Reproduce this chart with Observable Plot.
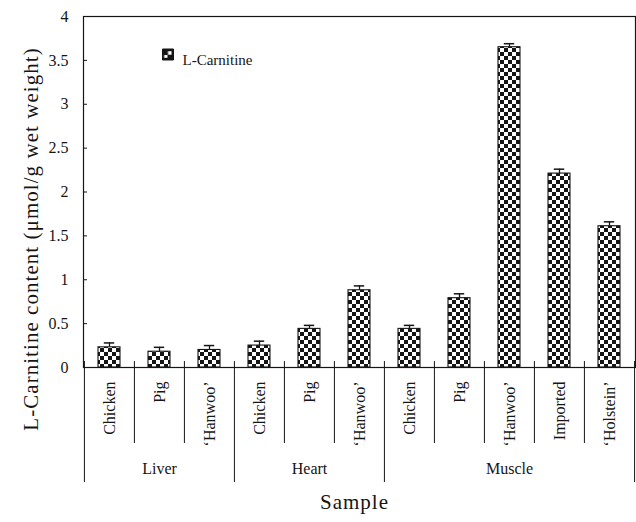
<!DOCTYPE html>
<html>
<head>
<meta charset="utf-8">
<script src="https://cdn.jsdelivr.net/npm/d3@7"></script>
<script src="https://cdn.jsdelivr.net/npm/@observablehq/plot@0.6"></script>
<style>
  html, body { margin: 0; padding: 0; background: #fff; }
  #chart { width: 636px; height: 522px; }
</style>
</head>
<body>
<div id="chart"></div>
<script>
// ---- data ----
const tissues = ["Liver", "Liver", "Liver", "Heart", "Heart", "Heart", "Muscle", "Muscle", "Muscle", "Muscle", "Muscle"];
const samples = ["Chicken", "Pig", "\u2018Hanwoo\u2019", "Chicken", "Pig", "\u2018Hanwoo\u2019", "Chicken", "Pig", "\u2018Hanwoo\u2019", "Imported", "\u2018Holstein\u2019"];
const carnitine = [0.23, 0.18, 0.20, 0.25, 0.44, 0.88, 0.44, 0.79, 3.65, 2.21, 1.61];
const sem = [0.05, 0.05, 0.05, 0.05, 0.04, 0.05, 0.04, 0.05, 0.04, 0.05, 0.05];
const groups = ["Liver", "Heart", "Muscle"];
const yTicks = [0, 0.5, 1, 1.5, 2, 2.5, 3, 3.5, 4];
const yLabel = "L-Carnitine content (\u03bcmol/g wet weight)";
const xLabel = "Sample";
const seriesName = "L-Carnitine";

// ---- table ----
const rows = samples.map((s, i) => ({
  key: tissues[i] + "|" + s,
  tissue: tissues[i],
  sample: s,
  value: carnitine[i],
  top: carnitine[i] + sem[i]
}));
const keys = rows.map(d => d.key);
const sampleOf = new Map(rows.map(d => [d.key, d.sample]));
const tissueOf = new Map(rows.map(d => [d.key, d.tissue]));
const groupFirst = groups.map(g => rows.find(d => d.tissue === g).key);
const groupMid = groups.map(g => {
  const r = rows.filter(d => d.tissue === g);
  return r[Math.floor(r.length / 2)].key;
});
const innerKeys = keys.filter(k => !groupFirst.includes(k));

// ---- layout ----
const W = 636, H = 522;
const mL = 83, mR = 1, mT = 16, mB = 155;
const plotW = W - mL - mR, plotH = H - mT - mB;
const step = plotW / keys.length;
const pad = 0.57;
const ink = "#151515";

function defsMark() {
  const ns = "http://www.w3.org/2000/svg";
  const defs = document.createElementNS(ns, "defs");
  const rect = (parent, x, y, w, h, fill) => {
    const r = document.createElementNS(ns, "rect");
    r.setAttribute("x", x); r.setAttribute("y", y);
    r.setAttribute("width", w); r.setAttribute("height", h);
    r.setAttribute("fill", fill);
    parent.appendChild(r);
  };
  // bar checker pattern
  const p = document.createElementNS(ns, "pattern");
  p.setAttribute("id", "checker");
  p.setAttribute("patternUnits", "userSpaceOnUse");
  p.setAttribute("width", 8);
  p.setAttribute("height", 8);
  rect(p, 0, 0, 8, 8, "#fff");
  rect(p, 0, 0, 4, 4, ink);
  rect(p, 4, 4, 4, 4, ink);
  defs.appendChild(p);
  // legend swatch pattern (bounding-box relative)
  const q = document.createElementNS(ns, "pattern");
  q.setAttribute("id", "checkerLegend");
  q.setAttribute("patternUnits", "objectBoundingBox");
  q.setAttribute("patternContentUnits", "objectBoundingBox");
  q.setAttribute("width", 1);
  q.setAttribute("height", 1);
  rect(q, 0, 0, 1, 1, ink);
  rect(q, 0.5, 0.2, 0.32, 0.32, "#fff");
  rect(q, 0.15, 0.55, 0.3, 0.25, "#fff");
  defs.appendChild(q);
  return defs;
}

const chart = Plot.plot({
  width: W,
  height: H,
  marginLeft: mL,
  marginRight: mR,
  marginTop: mT,
  marginBottom: mB,
  style: { fontFamily: "'Liberation Serif', 'Times New Roman', serif", color: ink, background: "#fff", overflow: "visible" },
  x: { domain: keys, paddingInner: pad, paddingOuter: pad / 2, label: null },
  y: { domain: [0, 4], label: null },
  marks: [
    defsMark,
    Plot.barY(rows, { x: "key", y: "value", fill: "url(#checker)", stroke: ink, strokeWidth: 1.1 }),
    Plot.ruleX(rows, { x: "key", y1: "value", y2: "top", stroke: ink, strokeWidth: 1.3 }),
    Plot.tickY(rows, { x: "key", y: "top", stroke: ink, strokeWidth: 1.5, insetLeft: 5.8, insetRight: 5.8 }),
    Plot.frame({ stroke: ink, strokeWidth: 1.2 }),
    Plot.ruleY(yTicks, { y: d => d, stroke: ink, strokeWidth: 1, insetRight: plotW - 4 }),
    Plot.axisY(yTicks, { tickSize: 0, tickPadding: 15, fontSize: 16, tickFormat: d => String(d), label: null }),
    Plot.ruleX(innerKeys, { x: d => d, dx: -step / 2, stroke: ink, strokeWidth: 1, insetTop: plotH - 6, insetBottom: -(443 - (H - mB)) }),
    Plot.ruleX(groupFirst, { x: d => d, dx: -step / 2, stroke: ink, strokeWidth: 1, insetTop: plotH - 6, insetBottom: -(482 - (H - mB)) }),
    Plot.ruleX([keys[keys.length - 1]], { x: d => d, dx: step / 2, stroke: ink, strokeWidth: 1, insetTop: plotH - 6, insetBottom: -(482 - (H - mB)) }),
    Plot.axisX(keys, { tickSize: 0, tickPadding: 14, tickRotate: -90, fontSize: 16, tickFormat: k => sampleOf.get(k), label: null }),
    Plot.axisX(groupMid, { tickSize: 0, tickPadding: 95, fontSize: 16, tickFormat: k => tissueOf.get(k), label: null }),
    Plot.text([xLabel], { frameAnchor: "bottom", dx: -5, dy: 141, fontSize: 21, fill: ink }),
    Plot.text([yLabel], { frameAnchor: "left", textAnchor: "middle", lineAnchor: "middle", rotate: -90, dx: -52, dy: 47, fontSize: 21, fill: ink }),
    Plot.dot([seriesName], { frameAnchor: "top-left", dx: 84.5, dy: 38, symbol: "square", r: 6.2, fill: "url(#checkerLegend)", stroke: ink, strokeWidth: 1 }),
    Plot.text([seriesName], { frameAnchor: "top-left", dx: 99, dy: 37.5, textAnchor: "start", fontSize: 15, fill: ink })
  ]
});

document.getElementById("chart").appendChild(chart);

d3.select(chart).selectAll("text")
  .filter(function () { return this.textContent === yLabel; })
  .style("letter-spacing", "1.05px");
d3.select(chart).selectAll("text")
  .filter(function () { return this.textContent === xLabel; })
  .style("letter-spacing", "1px");
</script>
</body>
</html>
